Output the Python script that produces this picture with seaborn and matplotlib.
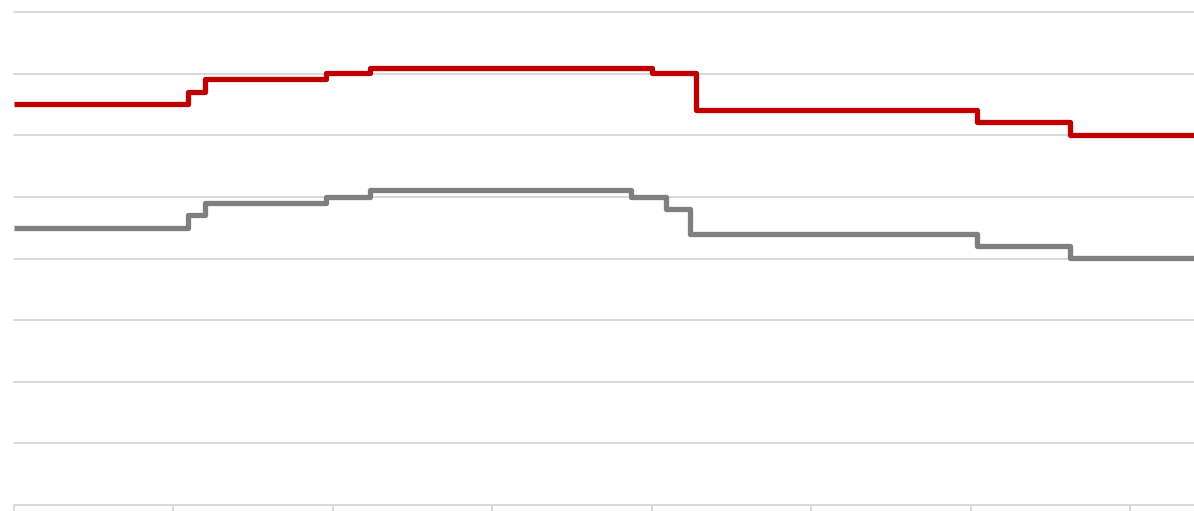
import matplotlib
matplotlib.use("Agg")
import matplotlib.pyplot as plt
import seaborn as sns
import pandas as pd

# Step start positions (x units = tick intervals) and values (y units = grid intervals)
red_x = [0.0, 1.09, 1.20, 1.956, 2.23, 4.0, 4.28, 6.04, 6.62, 7.40]
red_y = [6.51, 6.70, 6.92, 7.01, 7.09, 7.01, 6.41, 6.22, 6.01, 6.01]
gray_x = [0.0, 1.09, 1.20, 1.956, 2.23, 3.87, 4.09, 4.24, 6.04, 6.62, 7.40]
gray_y = [4.50, 4.71, 4.90, 5.00, 5.11, 5.00, 4.81, 4.40, 4.20, 4.01, 4.01]

sns.set_theme(style="white")
fig = plt.figure(figsize=(11.94, 5.11), dpi=100)
ax = fig.add_axes([14/1194, 6/511, 1180/1194, 493/511])

df_r = pd.DataFrame({"x": red_x, "y": red_y})
df_g = pd.DataFrame({"x": gray_x, "y": gray_y})
sns.lineplot(data=df_g, x="x", y="y", ax=ax, color="#7F7F7F", linewidth=3.8,
             drawstyle="steps-post", solid_joinstyle="round", solid_capstyle="butt")
sns.lineplot(data=df_r, x="x", y="y", ax=ax, color="#C00000", linewidth=3.8,
             drawstyle="steps-post", solid_joinstyle="round", solid_capstyle="butt")

ax.set_xlim(0, 7.40)
ax.set_ylim(0, 8)
ax.set_yticks(range(0, 9))
ax.set_xticks(range(0, 8))
ax.grid(axis="y", color="#D9D9D9", linewidth=1.4)
ax.set_axisbelow(True)
for s in ["left", "right", "top"]:
    ax.spines[s].set_visible(False)
ax.spines["bottom"].set_color("#D9D9D9")
ax.spines["bottom"].set_linewidth(1.4)
ax.tick_params(axis="x", direction="out", length=5, width=1.4, color="#D9D9D9",
               labelbottom=False, bottom=True)
ax.tick_params(axis="y", length=0, labelleft=False)
ax.set_xlabel("")
ax.set_ylabel("")
for line in ax.get_ygridlines():
    line.set_clip_on(False)

fig.savefig("out.png", dpi=100, facecolor="white")
